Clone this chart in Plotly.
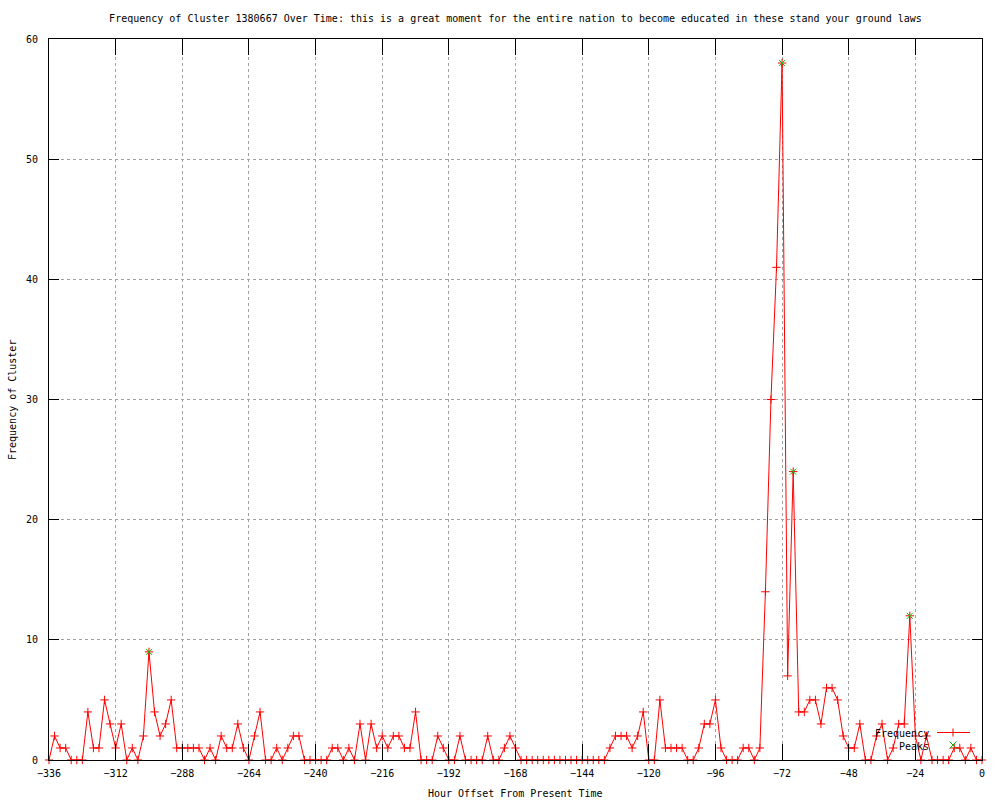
import plotly.graph_objects as go

# ---- data (hour offsets, 2-hour bins) ----
hours = list(range(-336, 1, 2))
frequency = [
    0, 2, 1, 1, 0, 0, 0, 4, 1, 1, 5, 3, 1, 3, 0, 1, 0, 2, 9, 4, 2, 3, 5, 1, 1, 1, 1, 1, 0, 1,
    0, 2, 1, 1, 3, 1, 0, 2, 4, 0, 0, 1, 0, 1, 2, 2, 0, 0, 0, 0, 0, 1, 1, 0, 1, 0, 3, 0, 3,
    1, 2, 1, 2, 2, 1, 1, 4, 0, 0, 0, 2, 1, 0, 0, 2, 0, 0, 0, 0, 2, 0, 0, 1, 2, 1, 0, 0,
    0, 0, 0, 0, 0, 0, 0, 0, 0, 0, 0, 0, 0, 0,
    1, 2, 2, 2, 1, 2, 4, 0, 0, 5, 1, 1, 1, 1, 0,
    0, 1, 3, 3, 5, 1, 0, 0, 0, 1, 1, 0, 1, 14, 30, 41, 58, 7, 24, 4, 4, 5, 5, 3, 6, 6, 5, 2, 1,
    1, 3, 0, 0, 2, 3, 0, 1, 3, 3, 12, 2, 0, 2, 0, 0, 0, 0, 1, 1, 0, 1, 0, 0,
]
peak_hours = [-300, -72, -68, -26]
peak_values = [9, 58, 24, 12]

x_tick_values = [-336, -312, -288, -264, -240, -216, -192, -168, -144, -120, -96, -72, -48, -24, 0]
y_tick_values = [0, 10, 20, 30, 40, 50, 60]

title_text = ("Frequency of Cluster 1380667 Over Time: this is a great moment for the entire "
              "nation to become educated in these stand your ground laws")
x_label = "Hour Offset From Present Time"
y_label = "Frequency of Cluster"
series_names = ["Frequency", "Peaks"]

FONT = "DejaVu Sans Mono"
RED = "#ff0000"
GREEN = "#00c000"

W, H = 1000, 800
ML, MR, MT, MB = 49, 18, 39, 40
PW, PH = W - ML - MR, H - MT - MB


def px(xp):
    return (xp - ML) / PW


def py(yp):
    return (H - MB - yp) / PH


fig = go.Figure()
fig.add_trace(go.Scatter(
    x=hours, y=frequency, mode="lines+markers", name=series_names[0],
    line=dict(color=RED, width=1),
    marker=dict(symbol="cross-thin-open", size=6, color=RED, line=dict(color=RED, width=1)),
    cliponaxis=False, showlegend=False,
))
fig.add_trace(go.Scatter(
    x=peak_hours, y=peak_values, mode="markers", name=series_names[1],
    marker=dict(symbol="x-thin-open", size=6, color=GREEN, line=dict(color=GREEN, width=1)),
    cliponaxis=False, showlegend=False,
))

axis_common = dict(
    showline=True, linecolor="black", linewidth=1, mirror="ticks",
    ticks="inside", tickcolor="black", tickwidth=1,
    showgrid=True, gridcolor="#a0a0a0", griddash="dot", gridwidth=1,
    zeroline=False, tickfont=dict(family=FONT, size=10, color="black"),
)

fig.update_xaxes(range=[-336, 0], tickmode="array", tickvals=x_tick_values,
                 ticklen=16, ticklabelstandoff=4, **axis_common)
fig.update_yaxes(range=[0, 60], tickmode="array", tickvals=y_tick_values,
                 ticklen=10, ticklabelstandoff=8, **axis_common)

annotations = [
    dict(text=x_label, xref="paper", yref="paper", x=0.5, y=py(793),
         xanchor="center", yanchor="middle", showarrow=False,
         font=dict(family=FONT, size=10, color="black")),
    dict(text=y_label, xref="paper", yref="paper", x=px(12), y=py(400),
         xanchor="center", yanchor="middle", textangle=-90, showarrow=False,
         font=dict(family=FONT, size=10, color="black")),
    dict(text=series_names[0], xref="paper", yref="paper", x=px(931), y=py(733),
         xanchor="right", yanchor="middle", showarrow=False,
         font=dict(family=FONT, size=10, color="black")),
    dict(text=series_names[1], xref="paper", yref="paper", x=px(931), y=py(746),
         xanchor="right", yanchor="middle", showarrow=False,
         font=dict(family=FONT, size=10, color="black")),
]

shapes = [
    # legend sample: Frequency (line with + marker)
    dict(type="line", xref="paper", yref="paper", x0=px(937), x1=px(970), y0=py(732.5), y1=py(732.5),
         line=dict(color=RED, width=1)),
    dict(type="line", xref="paper", yref="paper", x0=px(953), x1=px(953), y0=py(728.5), y1=py(736.5),
         line=dict(color=RED, width=1)),
    # legend sample: Peaks (green x)
    dict(type="line", xref="paper", yref="paper", x0=px(949.5), x1=px(956.5), y0=py(741.5), y1=py(748.5),
         line=dict(color=GREEN, width=1)),
    dict(type="line", xref="paper", yref="paper", x0=px(949.5), x1=px(956.5), y0=py(748.5), y1=py(741.5),
         line=dict(color=GREEN, width=1)),
]

fig.update_layout(
    width=W, height=H,
    margin=dict(l=ML, r=MR, t=MT, b=MB, pad=0),
    paper_bgcolor="white", plot_bgcolor="white",
    title=dict(text=title_text, x=0.5, xref="paper", y=1 - 18 / H, yref="container",
               xanchor="center", yanchor="middle",
               font=dict(family=FONT, size=10, color="black")),
    annotations=annotations, shapes=shapes,
    showlegend=False,
)

fig.write_html("out.html", config={"displayModeBar": False},
               post_script="document.body.style.margin='0';")
